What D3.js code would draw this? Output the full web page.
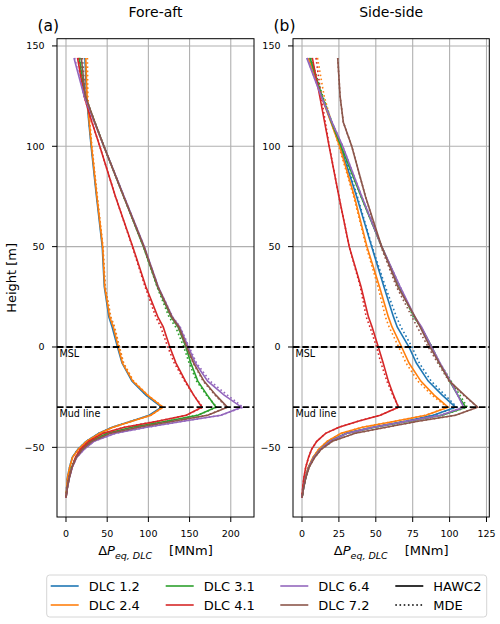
<!DOCTYPE html>
<html>
<head>
<meta charset="utf-8">
<script src="https://cdn.jsdelivr.net/npm/d3@7"></script>
<style>
  body { margin: 0; background: #fff; }
  svg text { font-family: "DejaVu Sans", sans-serif; fill: #000; }
</style>
</head>
<body>
<div id="chart"></div>
<script>
// heights [m] shared by every profile
var heights = [144, 125, 112, 100, 75, 50, 30, 15, 10, 0, -8, -17, -24, -30, -34, -37, -40, -43, -47, -51, -55, -60, -65, -70, -75];

var dlcNames  = ['DLC 1.2', 'DLC 2.4', 'DLC 3.1', 'DLC 4.1', 'DLC 6.4', 'DLC 7.2'],
    dlcColors = ['#1f77b4', '#ff7f0e', '#2ca02c', '#d62728', '#9467bd', '#8c564b'];

// (a) fore-aft, HAWC2
var faH12 = [23, 25, 27.7, 30.5, 37, 44, 46.5, 52, 56, 62.5, 68, 80, 97, 116, 101, 79, 56, 40, 24.5, 14.5, 7.6, 4.3, 1.8, 0.8, 0],
    faH24 = [24, 25.5, 28.2, 31, 37.5, 44.5, 47, 53, 57.4, 63.5, 68.5, 81, 99, 117.5, 103, 80, 57, 41, 25, 15, 8, 4.5, 2, 0.9, 0],
    faH31 = [16, 23, 35, 46, 70, 94, 111, 127.5, 136, 145.5, 151.5, 160, 171.5, 182, 160, 122, 80, 50, 29.5, 19, 12, 6.8, 3.9, 1.6, 0],
    faH41 = [14, 22, 31.5, 41, 60, 81, 97, 111.5, 118, 126, 133.5, 145, 155, 165, 146, 111, 71, 45, 27.5, 17.5, 11.5, 7.3, 3.8, 1.6, 0],
    faH64 = [9.7, 22, 34.5, 46, 70.5, 95, 112, 129, 138, 148.5, 157, 172, 192, 213, 188, 142, 98, 60, 34, 22, 13, 7.5, 4.2, 1.8, 0],
    faH72 = [18.6, 23.5, 35, 46, 70, 94.5, 111.5, 128.5, 137, 146.7, 155, 167.5, 182, 196, 172, 130, 88, 54, 31.5, 20, 12.5, 7.2, 4.1, 1.7, 0];

// (a) fore-aft, MDE
var faM12 = [23.5, 25.5, 28, 31, 37.5, 44.5, 47.5, 54, 58.5, 64.5, 69.5, 81, 97.5, 117, 102, 79, 56, 40, 24.5, 14.5, 7.6, 4.3, 1.8, 0.8, 0],
    faM24 = [26, 26.5, 29, 31.5, 38, 45, 47.5, 54.5, 59, 65, 70, 82, 99.5, 118, 103, 80, 57, 41, 25, 15, 8, 4.5, 2, 0.9, 0],
    faM31 = [17, 23, 35, 46, 70, 94, 110.5, 125, 133, 143, 149.5, 158.5, 170.5, 183, 160, 122, 80, 50, 29.5, 19, 12, 6.8, 3.9, 1.6, 0],
    faM41 = [15, 22, 31.5, 41, 60, 80.5, 96, 109, 115, 123.5, 131.5, 144, 155, 166, 146, 111, 71, 45, 27.5, 17.5, 11.5, 7.3, 3.8, 1.6, 0],
    faM64 = [10.5, 22, 34.5, 46, 70.5, 95, 112, 129.5, 138.5, 149.5, 158.5, 175, 196, 215, 188, 142, 98, 60, 34, 22, 13, 7.5, 4.2, 1.8, 0],
    faM72 = [20, 23.5, 35, 46, 70, 94.5, 111.5, 127.5, 136, 146, 154.5, 166.5, 181, 195, 172, 130, 88, 54, 31.5, 20, 12.5, 7.2, 4.1, 1.7, 0];

// (b) side-side, HAWC2
var ssH12 = [4.5, 13.3, 19.8, 26, 37, 47.2, 55.5, 62, 64.5, 72.5, 77.5, 85.5, 95, 104, 89, 70, 48, 30, 18.5, 12.3, 7.8, 4.4, 2.5, 1.1, 0],
    ssH24 = [4.3, 13, 19.6, 25.5, 35.5, 44, 52.5, 58.5, 61, 67.5, 72.5, 80.5, 89.5, 99, 84, 63, 41, 26.5, 17, 11.3, 7.4, 4.2, 2.3, 1, 0],
    ssH31 = [5.5, 13.5, 20, 26.5, 40, 54, 66, 76, 80.5, 88, 93, 100, 105.5, 111, 95, 72, 49, 30.5, 18.8, 12.5, 8, 4.5, 2.5, 1.1, 0],
    ssH41 = [7, 12, 15.3, 18.4, 25, 32, 40, 45, 47.5, 51.7, 55, 58.5, 62, 65.3, 53, 38, 25, 16, 10, 6.5, 4.4, 2.5, 1.3, 0.5, 0],
    ssH64 = [3.2, 13, 20.3, 27.6, 40.5, 54, 66.5, 76.5, 81, 87.9, 93.5, 100.5, 105.5, 109.5, 94, 71, 48.5, 30.5, 18.8, 12.5, 8, 4.5, 2.5, 1.1, 0],
    ssH72 = [24.2, 25.8, 28, 33.7, 43, 54, 65, 76.6, 80, 86.7, 93, 100, 110, 119, 104, 78.5, 57, 36, 20.5, 13, 8.6, 4.8, 2.6, 1.1, 0];

// (b) side-side, MDE
var ssM12 = [5, 13.5, 20, 26.5, 37.5, 47.5, 56.5, 64, 67, 74.5, 79.5, 87.5, 97, 105, 89, 70, 48, 30, 18.5, 12.3, 7.8, 4.4, 2.5, 1.1, 0],
    ssM24 = [10.5, 15, 20, 25, 35, 43.5, 51.5, 56.5, 59, 65.5, 70.5, 78.5, 88, 98.5, 84, 63, 41, 26.5, 17, 11.3, 7.4, 4.2, 2.3, 1, 0],
    ssM31 = [6, 14, 20.3, 26.5, 40, 54, 66, 75.5, 80.5, 88, 93.5, 101, 107, 112, 95, 72, 49, 30.5, 18.8, 12.5, 8, 4.5, 2.5, 1.1, 0],
    ssM41 = [9.5, 13, 15.8, 18.5, 25, 32, 39.5, 43.5, 46, 50.5, 53.5, 57.5, 61.5, 65.5, 53, 38, 25, 16, 10, 6.5, 4.4, 2.5, 1.3, 0.5, 0],
    ssM64 = [3.5, 13, 20.3, 27.6, 40.5, 54, 66.5, 76, 80.5, 87.5, 93.5, 100.5, 105.5, 109.5, 94, 71, 48.5, 30.5, 18.8, 12.5, 8, 4.5, 2.5, 1.1, 0],
    ssM72 = [24.2, 25.8, 28, 33.7, 43, 53.5, 64, 74.5, 78, 85.5, 92, 99.5, 109.5, 119, 104, 78.5, 57, 36, 20.5, 13, 8.6, 4.8, 2.6, 1.1, 0];

var faTicks = [0, 50, 100, 150, 200],
    ssTicks = [0, 25, 50, 75, 100, 125],
    yTicks  = [150, 100, 50, 0, -50],
    refLines = [{ h: 0, label: 'MSL' }, { h: -30, label: 'Mud line' }];

var svg = d3.select('#chart')
            .append('svg')
            .attr('width', 500)
            .attr('height', 624);

var y = d3.scaleLinear().domain([153.6, -84.7]).range([38.7, 517]);

var panels = [
  { tag: '(a)', title: 'Fore-aft', left: 57, right: 254, domain: [-10.92, 228.2], ticks: faTicks,
    hawc2: [faH12, faH24, faH31, faH41, faH64, faH72], mde: [faM12, faM24, faM31, faM41, faM64, faM72] },
  { tag: '(b)', title: 'Side-side', left: 293, right: 489.3, domain: [-6.1, 126.9], ticks: ssTicks,
    hawc2: [ssH12, ssH24, ssH31, ssH41, ssH64, ssH72], mde: [ssM12, ssM24, ssM31, ssM41, ssM64, ssM72] }
];

var fmt = function(v) { return v < 0 ? '\u2212' + Math.abs(v) : String(v); };

panels.forEach(function(p) {
  var x = d3.scaleLinear().domain(p.domain).range([p.left, p.right]),
      g = svg.append('g'),
      top = y.range()[0], bottom = y.range()[1];

  // grid
  g.selectAll('.vgrid').data(p.ticks).enter().append('line')
    .attr('x1', x).attr('x2', x).attr('y1', top).attr('y2', bottom)
    .attr('stroke', '#b0b0b0').attr('stroke-width', 1.1);
  g.selectAll('.hgrid').data(yTicks).enter().append('line')
    .attr('x1', p.left).attr('x2', p.right)
    .attr('y1', function(d) { return y(d); }).attr('y2', function(d) { return y(d); })
    .attr('stroke', '#b0b0b0').attr('stroke-width', 1.1);

  var line = d3.line()
               .x(function(d) { return x(d[1]); })
               .y(function(d) { return y(d[0]); });

  p.hawc2.forEach(function(vals, i) {
    g.append('path')
      .attr('d', line(d3.zip(heights, vals)))
      .attr('fill', 'none')
      .attr('stroke', dlcColors[i])
      .attr('stroke-width', 1.6);
    g.append('path')
      .attr('d', line(d3.zip(heights, p.mde[i])))
      .attr('fill', 'none')
      .attr('stroke', dlcColors[i])
      .attr('stroke-width', 1.6)
      .attr('stroke-dasharray', '1.6,2.6');
  });

  // MSL and mud line
  refLines.forEach(function(r) {
    g.append('line')
      .attr('x1', p.left).attr('x2', p.right)
      .attr('y1', y(r.h)).attr('y2', y(r.h))
      .attr('stroke', '#000').attr('stroke-width', 1.8)
      .attr('stroke-dasharray', '6.5,2.8');
    g.append('text')
      .attr('x', p.left + 2.5).attr('y', y(r.h) + 10)
      .style('font-size', '9.6px')
      .text(r.label);
  });

  // frame
  g.append('rect')
    .attr('x', p.left).attr('y', top)
    .attr('width', p.right - p.left).attr('height', bottom - top)
    .attr('fill', 'none').attr('stroke', '#000').attr('stroke-width', 1);

  // x ticks
  g.selectAll('.xt').data(p.ticks).enter().append('line')
    .attr('x1', x).attr('x2', x).attr('y1', bottom).attr('y2', bottom + 5)
    .attr('stroke', '#000').attr('stroke-width', 1);
  g.selectAll('.xl').data(p.ticks).enter().append('text')
    .attr('x', x).attr('y', 537)
    .attr('text-anchor', 'middle')
    .style('font-size', '9.5px')
    .text(fmt);

  // y ticks
  g.selectAll('.yt').data(yTicks).enter().append('line')
    .attr('x1', p.left - 5).attr('x2', p.left)
    .attr('y1', function(d) { return y(d); }).attr('y2', function(d) { return y(d); })
    .attr('stroke', '#000').attr('stroke-width', 1);
  g.selectAll('.yl').data(yTicks).enter().append('text')
    .attr('x', p.left - 12.5)
    .attr('y', function(d) { return y(d); })
    .attr('dy', '0.35em')
    .attr('text-anchor', 'end')
    .style('font-size', '9.5px')
    .text(fmt);

  // titles
  var cx = (p.left + p.right) / 2;
  g.append('text')
    .attr('x', cx).attr('y', 16.5)
    .attr('text-anchor', 'middle')
    .style('font-size', '14px')
    .text(p.title);
  g.append('text')
    .attr('x', p.left - 19.5).attr('y', 31)
    .style('font-size', '15.5px')
    .text(p.tag);

  // x label  ΔP_{eq,DLC}  [MNm]
  var xl = g.append('text')
    .attr('x', cx).attr('y', 555)
    .attr('text-anchor', 'middle')
    .style('font-size', '13px');
  xl.append('tspan').text('\u0394');
  xl.append('tspan').style('font-style', 'italic').text('P');
  xl.append('tspan').attr('dy', 3.5).style('font-style', 'italic').style('font-size', '9.5px').text('eq, DLC');
  xl.append('tspan').attr('dy', -3.5).attr('dx', 17).text('[MNm]');
});

svg.append('text')
  .attr('transform', 'translate(15.5,' + ((38.7 + 517) / 2) + ') rotate(-90)')
  .attr('text-anchor', 'middle')
  .style('font-size', '13px')
  .text('Height [m]');

// legend
var legendItems = dlcNames.map(function(n, i) { return { label: n, color: dlcColors[i], dash: null }; })
  .concat([{ label: 'HAWC2', color: '#000', dash: null }, { label: 'MDE', color: '#000', dash: '1.6,2.6' }]);

var colX = [50.7, 165.7, 280.3, 395.3],
    rowY = [586, 605];

var lg = svg.append('g');
lg.append('rect')
  .attr('x', 46.7).attr('y', 575)
  .attr('width', 440).attr('height', 42)
  .attr('rx', 3)
  .attr('fill', '#fff').attr('stroke', '#d6d6d6').attr('stroke-width', 1);

legendItems.forEach(function(it, i) {
  var cxl = colX[Math.floor(i / 2)], cy = rowY[i % 2];
  lg.append('line')
    .attr('x1', cxl).attr('x2', cxl + 28)
    .attr('y1', cy).attr('y2', cy)
    .attr('stroke', it.color).attr('stroke-width', 1.6)
    .attr('stroke-dasharray', it.dash);
  lg.append('text')
    .attr('x', cxl + 38).attr('y', cy + 5)
    .style('font-size', '13px')
    .text(it.label);
});
</script>
</body>
</html>
